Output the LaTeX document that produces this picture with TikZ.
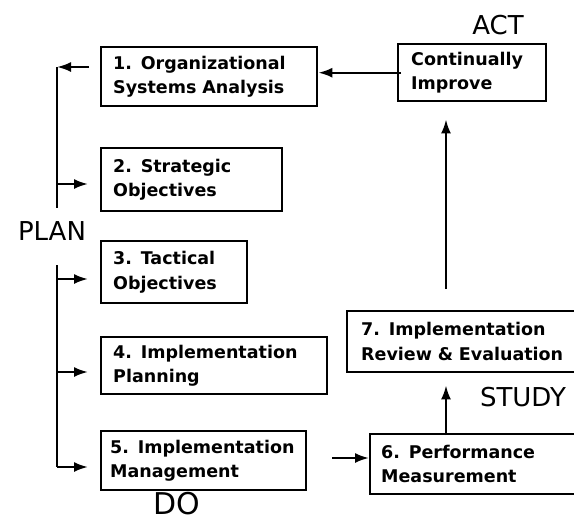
\documentclass[tikz,border=0pt]{standalone}
\usepackage{fontspec}
\setmainfont{DejaVu Sans}
\usetikzlibrary{positioning,arrows.meta}

\begin{document}
\begin{tikzpicture}[
    x=1pt, y=-1pt,
    every node/.style={align=left},
    box/.style 2 args={draw, line width=2.4pt, anchor=north west, inner xsep=12pt,
                       inner ysep=2pt, text width=#1, minimum height=#2,
                       font=\fontsize{17.5}{24.5}\selectfont\bfseries},
    phase/.style={font=\fontsize{26}{26}\selectfont, inner sep=0pt},
    spine/.style={line width=2.4pt},
    arr/.style={-{Latex[length=14pt, width=10pt]}, line width=2.2pt},
]
\useasboundingbox (0,0) rectangle (574,523);
\clip (0,0) rectangle (574,523);

% PLAN column
\node[box={192pt}{59pt}] (sysanalysis) at (100,46) {1. Organizational\\Systems Analysis};
\node[box={157pt}{63pt}, below=39.6pt of sysanalysis.south west, anchor=north west] (strategic) {2. Strategic\\Objectives};
\node[box={122pt}{62pt}, below=27.6pt of strategic.south west, anchor=north west] (tactical) {3. Tactical\\Objectives};
\node[box={202pt}{57pt}, below=31.6pt of tactical.south west, anchor=north west] (planning) {4. Implementation\\Planning};
\node[box={187pt}{59pt}, inner xsep=9pt, below=34.6pt of planning.south west, anchor=north west] (management) {5. Implementation\\Management};

% STUDY / ACT side
\node[box={188pt}{60pt}, inner xsep=11pt] (measure) at (369,433) {6. Performance\\Measurement};
\node[box={212pt}{61pt}, inner xsep=14pt] (review) at (346,310) {7. Implementation\\Review \& Evaluation};
\node[box={122pt}{57pt}, inner xsep=13pt] (improve) at (397,43) {Continually\\Improve};

% phase labels
\node[phase] (plan)  at (52,231)  {PLAN};
\node[phase] (act)   at (498,25)  {ACT};
\node[phase] (study) at (523,397) {STUDY};
\node[phase, font=\fontsize{30}{30}\selectfont] (do) at (177,504) {DO};

% bracket on the left, broken around PLAN
\coordinate (tick1) at (57,67);
\coordinate (tick2) at (57,184);
\coordinate (tick3) at (57,279);
\coordinate (tick4) at (57,372);
\coordinate (tick5) at (57,467);
\coordinate (breakhi) at (57,208);
\coordinate (breaklo) at (57,265);
\draw[spine] (tick1) -- (breakhi);
\draw[spine] (breaklo) -- (tick5);

\draw[arr, shorten <=11pt] (tick1 -| sysanalysis.west) -- (tick1);
\draw[arr, shorten >=12pt] (tick2) -- (tick2 -| strategic.west);
\draw[arr, shorten >=12pt] (tick3) -- (tick3 -| tactical.west);
\draw[arr, shorten >=12pt] (tick4) -- (tick4 -| planning.west);
\draw[arr, shorten >=12pt] (tick5) -- (tick5 -| management.west);

% cycle arrows
\coordinate (riser) at (446,0);
\coordinate (feed) at (0,458);
\draw[arr, shorten <=25pt] (feed -| management.east) -- (feed -| measure.west);
\draw[arr, shorten <=-2pt, shorten >=12pt] (measure.north -| riser) -- (review.south -| riser);
\draw[arr, shorten <=21pt, shorten >=17pt] (review.north -| riser) -- (improve.south -| riser);
\draw[arr, shorten <=-4pt] (improve.west) -- (improve.west -| sysanalysis.east);

\end{tikzpicture}
\end{document}
